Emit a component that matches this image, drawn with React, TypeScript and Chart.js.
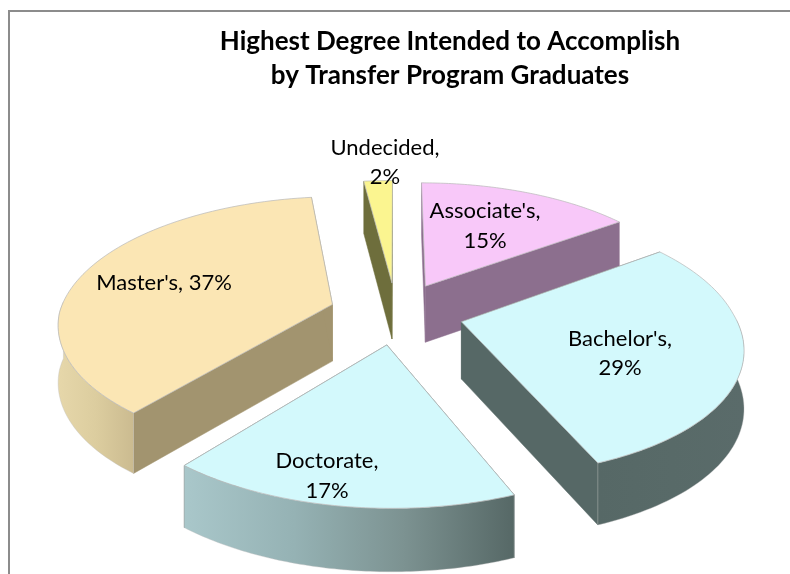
import React, { useEffect, useRef } from "react";
import Chart from "chart.js/auto";

const categories = ["Associate's", "Bachelor's", "Doctorate", "Master's", "Undecided"];
const shares = [15, 29, 17, 37, 2];

const topColors = ["#f8c8f9", "#d3f9fc", "#d3f9fc", "#fbe6b4", "#fbf590"];
const sideColors = ["#8c6f8e", "#566866", "#566866", "#a2946f", "#6e6e3c"];
// colour stops of each slice's curved wall, left to right
const rimStops = [
  ["#8c6f8e", "#8c6f8e"],
  ["#566866", "#586a68", "#5a6b6a"],
  ["#a9c7ca", "#95b2b4", "#7c9291", "#566866"],
  ["#e6d7aa", "#dccd9f", "#cbbb90"],
  ["#6e6e3c", "#6e6e3c"],
];
const paintOrder = [4, 0, 3, 1, 2];
const labelLines = [[1, 0], [1, 0], [1, 0], [0], [1, 0]];
const labelAnchors = [
  [485, 211, 241],
  [620, 339, 368],
  [327, 461, 491],
  [164, 283, 283],
  [385, 148, 177],
];

const view = { cx: 396, cy: 313, rx: 273, ry: 127, k: 0.155, depth: 57, explode: 0.245, shear: 7 };
const FONT = "Lato, 'Open Sans', sans-serif";

function project(u: number, v: number) {
  const w = 1 + view.k * v;
  return {
    x: view.cx + (view.rx * u) / w - view.shear * Math.min(v, 0),
    y: view.cy - (view.ry * v) / w,
    drop: view.depth / Math.sqrt(w),
  };
}

const pie3d = {
  id: "pie3d",
  beforeDatasetDraw(chart: any) {
    const ctx = chart.ctx;
    const arcs = chart.getDatasetMeta(0).data;
    for (const i of paintOrder) {
      const a0 = arcs[i].startAngle + Math.PI / 2;
      const a1 = arcs[i].endAngle + Math.PI / 2;
      const mid = (a0 + a1) / 2;
      const ou = view.explode * Math.sin(mid);
      const ov = view.explode * Math.cos(mid);
      const apex = project(ou, ov);
      const rim: any[] = [];
      const front: any[] = [];
      const n = 80;
      for (let s = 0; s <= n; s++) {
        const t = a0 + ((a1 - a0) * s) / n;
        const p = project(ou + Math.sin(t), ov + Math.cos(t));
        rim.push(p);
        if (Math.cos(t) <= 0.03) front.push(p);
      }
      const first = rim[0];
      const last = rim[n];

      const quad = (p: any, q: any, fill: string) => {
        ctx.beginPath();
        ctx.moveTo(p.x, p.y);
        ctx.lineTo(q.x, q.y);
        ctx.lineTo(q.x, q.y + q.drop);
        ctx.lineTo(p.x, p.y + p.drop);
        ctx.closePath();
        ctx.fillStyle = fill;
        ctx.fill();
        ctx.strokeStyle = fill;
        ctx.lineWidth = 0.5;
        ctx.stroke();
      };
      quad(apex, first, sideColors[i]);
      quad(apex, last, sideColors[i]);

      if (front.length > 1) {
        const xs = front.map((p) => p.x);
        const minX = Math.min(...xs);
        const maxX = Math.max(...xs);
        const grad = ctx.createLinearGradient(minX, 0, maxX, 0);
        rimStops[i].forEach((c, j) => grad.addColorStop(j / (rimStops[i].length - 1), c));
        ctx.beginPath();
        front.forEach((p, j) => (j ? ctx.lineTo(p.x, p.y) : ctx.moveTo(p.x, p.y)));
        for (let j = front.length - 1; j >= 0; j--) ctx.lineTo(front[j].x, front[j].y + front[j].drop);
        ctx.closePath();
        ctx.fillStyle = grad;
        ctx.fill();
        ctx.strokeStyle = "rgba(190,190,190,0.5)";
        ctx.lineWidth = 0.75;
        ctx.stroke();
      }

      ctx.beginPath();
      ctx.moveTo(apex.x, apex.y);
      rim.forEach((p) => ctx.lineTo(p.x, p.y));
      ctx.closePath();
      ctx.fillStyle = topColors[i];
      ctx.fill();
      ctx.strokeStyle = "rgba(185,185,185,0.8)";
      ctx.lineWidth = 0.9;
      ctx.stroke();
    }
    return false;
  },
  afterDatasetsDraw(chart: any) {
    const ctx = chart.ctx;
    ctx.save();
    ctx.fillStyle = "#000";
    ctx.font = `22px ${FONT}`;
    ctx.textAlign = "center";
    ctx.textBaseline = "middle";
    shares.forEach((v, i) => {
      const [x, y1, y2] = labelAnchors[i];
      if (labelLines[i].length === 1) {
        ctx.fillText(`${categories[i]}, ${v}%`, x, y1);
      } else {
        ctx.fillText(`${categories[i]},`, x, y1);
        ctx.fillText(`${v}%`, x, y2);
      }
    });
    ctx.restore();
  },
};

export default function App() {
  const ref = useRef<HTMLCanvasElement>(null);
  useEffect(() => {
    const chart = new Chart(ref.current!, {
      type: "pie",
      data: { labels: categories, datasets: [{ data: shares, backgroundColor: topColors }] },
      options: {
        responsive: false,
        animation: false,
        layout: { padding: { left: 110, top: 0 } },
        plugins: {
          legend: { display: false },
          tooltip: { enabled: false },
          title: {
            display: true,
            text: ["Highest Degree Intended to Accomplish", "by Transfer Program Graduates"],
            color: "#000",
            font: { family: FONT, size: 26, weight: "bold", lineHeight: 1.31 },
            padding: { top: 25, bottom: 10 },
          },
        },
      },
      plugins: [pie3d],
    } as any);
    return () => chart.destroy();
  }, []);
  return (
    <div style={{ position: "absolute", left: 0, top: 0, width: 790, height: 574, overflow: "hidden", background: "#fff" }}>
      <div style={{ position: "absolute", left: 8, top: 10, width: 820, height: 600, borderLeft: "2px solid #8c8c8c", borderTop: "2px solid #8c8c8c", boxSizing: "border-box" }} />
      <canvas ref={ref} width={790} height={574} style={{ position: "absolute", left: 0, top: 0 }} />
    </div>
  );
}
